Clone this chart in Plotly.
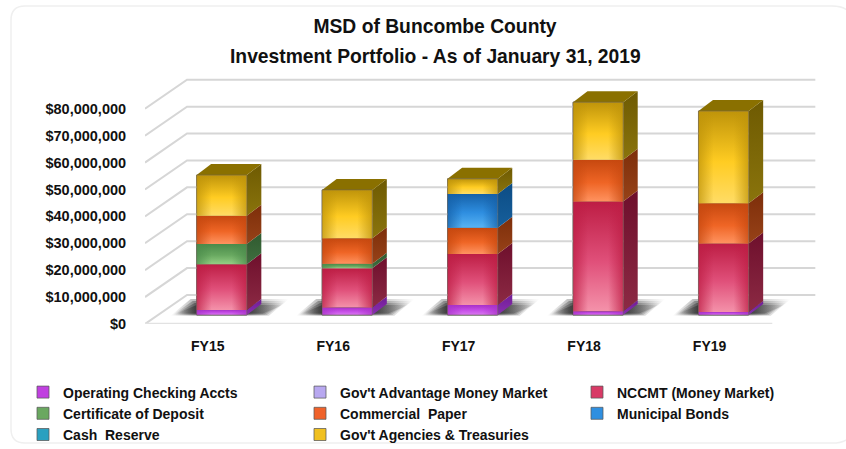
import plotly.graph_objects as go

categories = ["FY15", "FY16", "FY17", "FY18", "FY19"]
positions = [0, 1, 2, 3, 4]
series_names = ["Operating Checking Accts", "Gov't Advantage Money Market", "NCCMT (Money Market)",
                "Certificate of Deposit", "Commercial  Paper", "Municipal Bonds",
                "Cash  Reserve", "Gov't Agencies & Treasuries"]
legend_ids = ["legend", "legend2", "legend3", "legend", "legend2", "legend3", "legend", "legend2"]
operating = [1.9e6, 2.8e6, 3.7e6, 1.4e6, 1.1e6]
advantage = [0, 0, 0, 0, 0]
nccmt = [17.0e6, 14.6e6, 19.0e6, 40.8e6, 25.5e6]
deposit = [7.5e6, 1.6e6, 0, 0, 0]
commercial = [10.5e6, 9.5e6, 9.7e6, 15.5e6, 14.9e6]
municipal = [0, 0, 12.6e6, 0, 0]
cash = [0, 0, 0, 0, 0]
agencies = [15.1e6, 18.0e6, 5.6e6, 21.4e6, 34.3e6]
series_values = [operating, advantage, nccmt, deposit, commercial, municipal, cash, agencies]
tick_values = [0, 1e7, 2e7, 3e7, 4e7, 5e7, 6e7, 7e7, 8e7]
tick_labels = ["$0", "$10,000,000", "$20,000,000", "$30,000,000", "$40,000,000",
               "$50,000,000", "$60,000,000", "$70,000,000", "$80,000,000"]

# colours: legend swatch, front top, front middle, front bottom, side dark, side light
palette = [
    ("#c040e0", "#a830c8", "#c850e8", "#d878f0", "#701c96", "#8a30b0"),
    ("#b8a8f0", "#a090e0", "#b8a8f0", "#d0c8f8", "#7060b0", "#8070c0"),
    ("#d83a66", "#bd1d44", "#e0507a", "#f492aa", "#6e0f2c", "#8c2a44"),
    ("#6aa860", "#4a8a4a", "#68a860", "#94cf84", "#305a30", "#3f6f3f"),
    ("#f0622a", "#c6480f", "#ef6525", "#ff9360", "#7d2e0a", "#974218"),
    ("#2f8fe0", "#1560a8", "#2e8ee0", "#58b4f4", "#0c4c84", "#165f9c"),
    ("#2aa0c0", "#107890", "#2aa0c0", "#60c8e0", "#0c5a70", "#106a84"),
    ("#f0c020", "#bf940a", "#ffcc22", "#ffdc66", "#6e5a02", "#8a740c"),
]
top_face = "#8a7000"

PX_X = 125.4            # px per category
PX_Y = 26.9 / 1e7       # px per dollar
BAR_WIDTH = 0.4
FLOOR_DX, FLOOR_DY = 42 / PX_X, 29 / PX_Y      # full wall depth
BAR_DX, BAR_DY = 14 / PX_X, 9 / PX_Y           # bar front plane inside floor
SIDE_DX, SIDE_DY = 14.5 / PX_X, 11 / PX_Y      # bar depth
X_MIN, X_MAX = -0.5, 4.96
WALL_END = 4.843
Y_MIN, Y_MAX = 0, 9.44e7


def rgba(hex_color, alpha):
    h = hex_color.lstrip("#")
    return f"rgba({int(h[:2], 16)},{int(h[2:4], 16)},{int(h[4:], 16)},{alpha})"


fig = go.Figure()


def poly(xs, ys, color=None, gradient=None):
    fig.add_trace(go.Scatter(
        x=xs + xs[:1], y=ys + ys[:1], mode="lines", line=dict(width=0, color="rgba(0,0,0,0)"),
        fill="toself", fillcolor=color, fillgradient=gradient, showlegend=False, hoverinfo="skip"))


def line(xs, ys, color, width):
    fig.add_trace(go.Scatter(x=xs, y=ys, mode="lines", line=dict(color=color, width=width),
                             showlegend=False, hoverinfo="skip"))


# walls
for v in tick_values:
    line([X_MIN, X_MIN + FLOOR_DX, WALL_END], [v, v + FLOOR_DY, v + FLOOR_DY], "#d6d6d6", 2)
line([X_MIN, positions[-1] + 0.5], [0, 0], "#e2e2e2", 2.5)

# floor shadows: stacked soft layers
for p in positions:
    left = p + BAR_DX - BAR_WIDTH / 2
    right = left + BAR_WIDTH
    for inset, alpha in ((0, 0.3), (2, 0.35), (4, 0.4), (6, 0.5)):
        b = BAR_DY - 0.3e6 + inset * 0.4 / PX_Y
        t = BAR_DY + (16 - inset) / PX_Y
        x0, x1 = left - (26 - inset) / PX_X, right + (42 - inset) / PX_X
        poly([x0, x1 - 20 / PX_X, x1, x0 + 20 / PX_X], [b, b, t, t],
             gradient=dict(type="horizontal", start=x0, stop=x1,
                           colorscale=[[0, "rgba(30,30,30,0)"], [0.2, f"rgba(30,30,30,{alpha})"],
                                       [0.65, f"rgba(30,30,30,{alpha})"], [1, "rgba(30,30,30,0)"]]))

# real stacked bars (front faces, from the values)
cum = [BAR_DY] * len(categories)
segments = []
for name, values, pal, lid in zip(series_names, series_values, palette, legend_ids):
    fig.add_trace(go.Bar(
        x=[p + BAR_DX for p in positions], y=values, base=list(cum), width=BAR_WIDTH,
        name=name, legend=lid,
        marker=dict(color=pal[0], line=dict(width=1, color="rgba(90,90,90,0.75)")),
        hoverinfo="skip"))
    for i, v in enumerate(values):
        if v > 0:
            segments.append((i, cum[i], cum[i] + v, pal))
            cum[i] += v

# 3-D faces derived from the same values
for i, b, t, pal in segments:
    x0 = positions[i] + BAR_DX - BAR_WIDTH / 2
    x1 = x0 + BAR_WIDTH
    poly([x1, x1 + SIDE_DX, x1 + SIDE_DX, x1], [b, b + SIDE_DY, t + SIDE_DY, t],
         gradient=dict(type="vertical", start=b, stop=t + SIDE_DY,
                       colorscale=[[0, pal[5]], [1, pal[4]]]))
    poly([x0, x1, x1, x0], [b, b, t, t],
         gradient=dict(type="vertical", start=b, stop=t,
                       colorscale=[[0, pal[3]], [0.45, pal[2]], [1, pal[1]]]))
    poly([x0, x1, x1, x0], [b, b, t, t],
         gradient=dict(type="horizontal", start=x0, stop=x1,
                       colorscale=[[0, rgba(pal[1], 0.75)], [0.3, rgba(pal[1], 0)],
                                   [0.7, rgba(pal[1], 0)], [1, rgba(pal[1], 0.75)]]))
for i, p in enumerate(positions):
    x0 = p + BAR_DX - BAR_WIDTH / 2
    x1 = x0 + BAR_WIDTH
    t = cum[i]
    poly([x0, x1, x1 + SIDE_DX, x0 + SIDE_DX], [t, t, t + SIDE_DY, t + SIDE_DY], color=top_face)
    line([x0, x0, x1, x1, x0], [BAR_DY, t, t, BAR_DY, BAR_DY], "rgba(110,100,90,0.55)", 1)

FONT = "Liberation Sans"
PLOT_L, PLOT_R, PLOT_T, PLOT_B = 145, 830, 70, 324


def fx(px):
    return (px - PLOT_L) / (PLOT_R - PLOT_L)


def fy(py):
    return (PLOT_B - py) / (PLOT_B - PLOT_T)


card = (f"M {fx(11)} {fy(20)} Q {fx(11)} {fy(6)} {fx(25)} {fy(6)} L {fx(832)} {fy(6)} "
        f"Q {fx(846)} {fy(6)} {fx(850)} {fy(14)} L {fx(850)} {fy(436)} Q {fx(846)} {fy(443)} {fx(832)} {fy(443)} "
        f"L {fx(25)} {fy(443)} Q {fx(11)} {fy(443)} {fx(11)} {fy(429)} Z")


def legend_at(px):
    return dict(orientation="v", xref="container", yref="container", x=px / 846, xanchor="left",
                y=1 - 376.5 / 449, yanchor="top", traceorder="normal", borderwidth=0,
                font=dict(family=FONT, size=14, color="#111111", weight=700),
                bgcolor="rgba(0,0,0,0)")


fig.update_layout(
    width=846, height=449, autosize=False,
    margin=dict(l=PLOT_L, r=846 - PLOT_R, t=PLOT_T, b=449 - PLOT_B, autoexpand=False),
    paper_bgcolor="white", plot_bgcolor="rgba(0,0,0,0)",
    barmode="overlay",
    font=dict(family=FONT, size=14, color="#111111", weight=700),
    title=dict(text="MSD of Buncombe County",
               font=dict(family=FONT, size=19.3, color="#111111", weight=700),
               x=435 / 846, xanchor="center", y=1 - 26.5 / 449, yanchor="middle"),
    annotations=[dict(text="Investment Portfolio - As of January 31, 2019", showarrow=False,
                      xref="paper", yref="paper", x=fx(435), y=fy(56), xanchor="center", yanchor="middle",
                      font=dict(family=FONT, size=19.3, color="#111111", weight=700))],
    xaxis=dict(range=[X_MIN, X_MAX], tickmode="array", tickvals=positions, ticktext=categories,
               showgrid=False, zeroline=False, showline=False, ticks="outside", ticklen=9,
               tickcolor="rgba(0,0,0,0)", fixedrange=True),
    yaxis=dict(range=[Y_MIN, Y_MAX], tickmode="array", tickvals=tick_values, ticktext=tick_labels,
               showgrid=False, zeroline=False, showline=False, ticks="outside", ticklen=15,
               tickcolor="rgba(0,0,0,0)", fixedrange=True, tickfont=dict(size=14.5)),
    legend=legend_at(23),
    legend2=legend_at(300),
    legend3=legend_at(577),
    shapes=[dict(type="path", xref="paper", yref="paper", layer="below", path=card,
                 line=dict(color="#efefef", width=1.5), fillcolor="white")],
)
fig.write_html("out.html", post_script="document.body.style.margin='0';", config={"displayModeBar": False})
